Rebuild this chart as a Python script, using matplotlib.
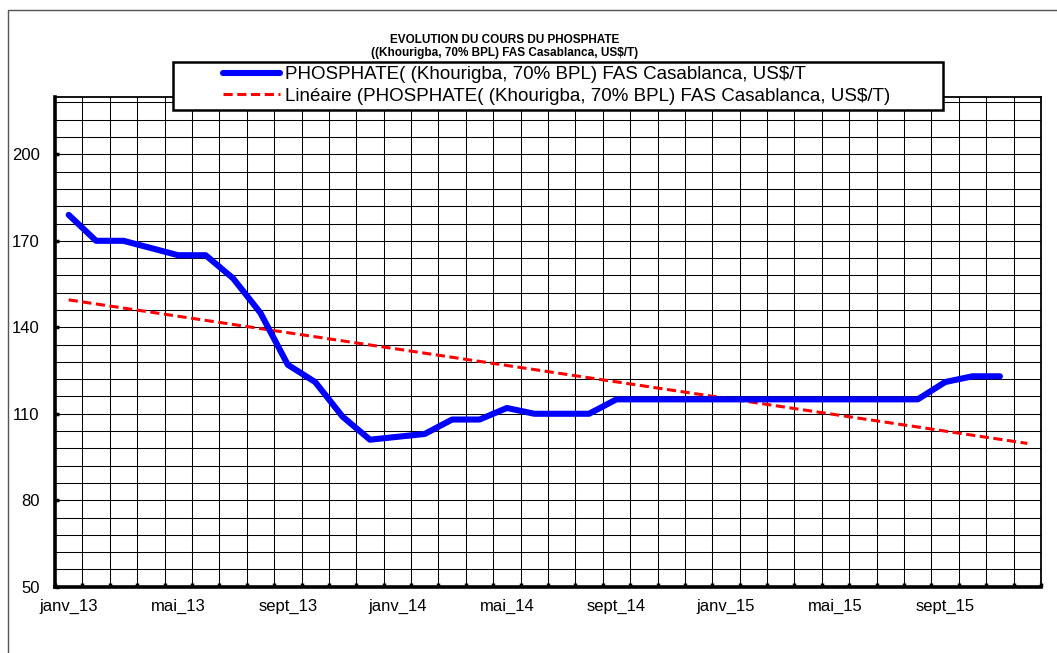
import numpy as np
import matplotlib
matplotlib.use("Agg")
import matplotlib.pyplot as plt
from matplotlib.patches import Rectangle

plt.rcParams['font.family'] = ['Liberation Sans', 'DejaVu Sans']

# monthly categories janv_13 .. déc_15
mois = ["janv", "févr", "mars", "avr", "mai", "juin",
        "juil", "août", "sept", "oct", "nov", "déc"]
categories = [f"{m}_{a}" for a in ("13", "14", "15") for m in mois]

# PHOSPHATE (Khourigba, 70% BPL) FAS Casablanca, US$/T  (janv_13 .. nov_15)
prix = [179, 170, 170, 167.5, 165, 165, 157, 145, 127, 121,
        109, 101, 102, 103, 108, 108, 112, 110, 110, 110,
        115, 115, 115, 115, 115, 115, 115, 115, 115, 115,
        115, 115, 121, 123, 123]

y_ticks = [50, 80, 110, 140, 170, 200]

label_serie = "PHOSPHATE( (Khourigba, 70% BPL) FAS Casablanca, US$/T"
label_trend = "Linéaire (PHOSPHATE( (Khourigba, 70% BPL) FAS Casablanca, US$/T)"

W, H = 1057, 653
fig = plt.figure(figsize=(W / 100, H / 100), dpi=100)
ax = fig.add_axes([55 / W, 1 - 586.7 / H, (1041 - 55) / W, (586.7 - 96.7) / H])

x = np.arange(len(prix))
xt = np.arange(len(categories))
# linear trendline, one period forward like Excel
coef = np.polyfit(x, prix, 1)
trend = np.polyval(coef, xt)

line_serie, = ax.plot(x, prix, color="#0000ff", lw=4.4, solid_joinstyle="round",
                      solid_capstyle="round", zorder=4)
line_trend, = ax.plot(xt, trend, color="#ff0000", lw=2.2, dashes=(3, 1.5), zorder=3)

ax.set_xlim(-0.5, len(categories) - 0.5)
ax.set_ylim(50, 220)

# grid
for gx in np.arange(0.5, len(categories) - 0.5, 1):
    ax.axvline(gx, color="black", lw=0.75, zorder=1)
for gy in np.arange(56, 220, 6):
    ax.axhline(gy, color="black", lw=0.75, zorder=1)

ax.set_yticks(y_ticks)
ax.set_yticklabels([str(v) for v in y_ticks])
ax.set_xticks(xt[::4])
ax.set_xticklabels(categories[::4])
ax.set_xticks(np.arange(-0.5, len(categories), 1), minor=True)
ax.tick_params(axis="x", which="major", length=0, pad=9, labelsize=12)
ax.tick_params(axis="x", which="minor", direction="in", length=3, width=2.5)
ax.tick_params(axis="y", direction="in", length=3, width=2.5, pad=11, labelsize=12)

ax.spines["left"].set_linewidth(2.6)
ax.spines["bottom"].set_linewidth(2.6)
ax.spines["top"].set_linewidth(1.3)
ax.spines["right"].set_linewidth(1.3)

# outer chart border (only left/top visible)
fig.patches.append(Rectangle((7.5 / W, -0.2), 1.2, 1 - 9.5 / H + 0.2,
                             transform=fig.transFigure, fill=False,
                             edgecolor="#555555", lw=1, zorder=0))

fig.text(505 / W, 1 - 40 / H, "EVOLUTION DU COURS DU PHOSPHATE", ha="center", va="center",
         fontsize=8.5, fontweight="bold")
fig.text(505 / W, 1 - 53 / H, "((Khourigba, 70% BPL) FAS Casablanca, US$/T)", ha="center",
         va="center", fontsize=8.5, fontweight="bold")

# legend box
fig.patches.append(Rectangle((172.7 / W, 1 - 110 / H), (942.7 - 172.7) / W, (110 - 61.7) / H,
                             transform=fig.transFigure, facecolor="white",
                             edgecolor="black", lw=1.8, zorder=4))
leg = fig.legend([line_serie, line_trend], [label_serie, label_trend],
                 loc="center left", bbox_to_anchor=(223 / W, 1 - 85.5 / H),
                 frameon=False, fontsize=13.5, handlelength=3.05, handletextpad=0.27,
                 labelspacing=0.25, borderpad=0, borderaxespad=0)
leg.set_zorder(5)

fig.savefig("out.png", dpi=100)
